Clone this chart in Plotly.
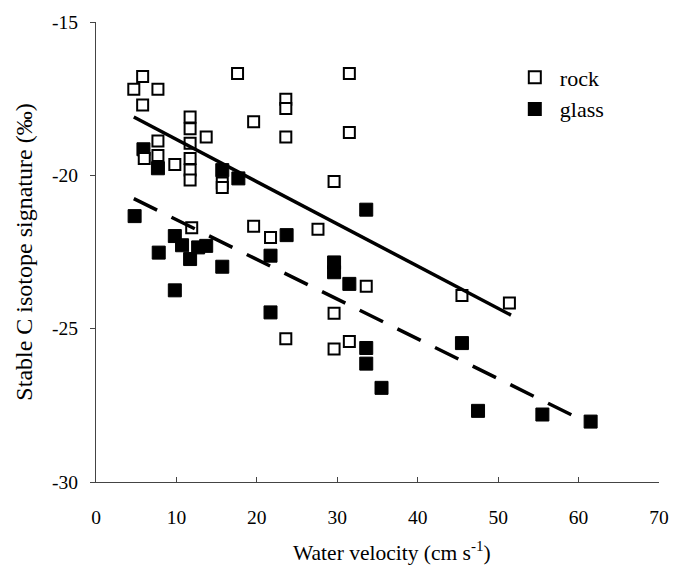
import plotly.graph_objects as go

# Data
rock_velocity = [4.7, 5.8, 7.7, 5.8, 17.6, 31.5, 11.7, 11.7, 13.7, 11.7, 7.7, 7.7,
                 6.0, 9.8, 11.7, 11.7, 11.7, 15.7, 15.7, 23.6, 23.6, 19.6, 31.5, 23.6,
                 29.6, 11.9, 19.6, 21.7, 27.6, 33.6, 45.5, 51.4, 29.6, 23.6, 31.5, 29.6]
rock_signature = [-17.19, -16.78, -17.19, -17.71, -16.68, -16.68, -18.10, -18.48, -18.75,
                  -18.95, -18.88, -19.35, -19.45, -19.65, -19.45, -19.83, -20.15, -20.25,
                  -20.40, -17.52, -17.82, -18.25, -18.60, -18.75, -20.20, -21.71, -21.66,
                  -22.03, -21.76, -23.62, -23.92, -24.16, -24.50, -25.33, -25.42, -25.66]

glass_velocity = [5.9, 7.7, 15.7, 17.7, 4.8, 9.8, 10.7, 12.7, 13.7, 7.8, 11.7, 15.7, 9.8,
                  23.7, 21.7, 29.6, 29.6, 31.5, 21.7, 33.6, 45.5, 33.6, 33.6, 35.5, 47.5,
                  55.5, 61.5]
glass_signature = [-19.15, -19.77, -19.83, -20.10, -21.33, -21.98, -22.28, -22.35, -22.30,
                   -22.52, -22.73, -22.98, -23.75, -21.95, -22.62, -22.84, -23.16, -23.54,
                   -24.47, -21.12, -25.47, -25.63, -26.14, -26.93, -27.68, -27.80, -28.03]

# Fitted trend lines (end points)
rock_fit_x = [4.7, 51.6]
rock_fit_y = [-18.10, -24.56]
glass_fit_x = [4.7, 61.5]
glass_fit_y = [-20.76, -28.12]

x_ticks = [0, 10, 20, 30, 40, 50, 60, 70]
y_ticks = [-15, -20, -25, -30]

FONT = "Liberation Serif, Times New Roman, serif"

fig = go.Figure()

fig.add_trace(go.Scatter(
    x=glass_velocity, y=glass_signature, mode="markers", name="glass",
    legendrank=2,
    marker=dict(symbol="square", size=13, color="black",
                line=dict(color="black", width=1)),
))
fig.add_trace(go.Scatter(
    x=rock_velocity, y=rock_signature, mode="markers", name="rock",
    legendrank=1,
    marker=dict(symbol="square", size=11, color="white",
                line=dict(color="black", width=2)),
))
fig.add_trace(go.Scatter(
    x=rock_fit_x, y=rock_fit_y, mode="lines", showlegend=False,
    line=dict(color="black", width=3.5),
))
fig.add_trace(go.Scatter(
    x=glass_fit_x, y=glass_fit_y, mode="lines", showlegend=False,
    line=dict(color="black", width=3.5, dash="26px,16px"),
))

fig.add_annotation(
    text="Water velocity (cm s<sup>-1</sup>)",
    xref="paper", yref="paper", x=0.525, y=-0.152,
    xanchor="center", yanchor="middle", showarrow=False,
    font=dict(size=21.5, family=FONT, color="black"),
)

fig.update_layout(
    width=681, height=577,
    margin=dict(l=96, r=12, t=17, b=95),
    paper_bgcolor="white", plot_bgcolor="white",
    font=dict(family=FONT, color="black", size=18),
    showlegend=True,
    legend=dict(x=0.735, y=0.925, xanchor="left", yanchor="top",
                bgcolor="rgba(0,0,0,0)", font=dict(size=22, family=FONT),
                itemsizing="constant", itemwidth=40, tracegroupgap=0),
    xaxis=dict(
        range=[0, 70], tickvals=x_ticks, ticktext=[str(v) for v in x_ticks],
        showgrid=False, zeroline=False, showline=True, linecolor="#444", linewidth=1,
        ticks="inside", ticklen=5, tickcolor="#444", ticklabelstandoff=18,
        tickfont=dict(size=19.5),
    ),
    yaxis=dict(
        range=[-30, -15], tickvals=y_ticks, ticktext=[str(v) for v in y_ticks],
        showgrid=False, zeroline=False, showline=True, linecolor="#444", linewidth=1,
        ticks="outside", ticklen=5, tickcolor="#444", ticklabelstandoff=8,
        title=dict(text="Stable C isotope signature (‰)", font=dict(size=24), standoff=12),
        tickfont=dict(size=19.5),
    ),
)

fig.write_html(
    "out.html",
    config={"displayModeBar": False},
    post_script="document.body.style.margin='0';document.body.style.overflow='hidden';",
)
